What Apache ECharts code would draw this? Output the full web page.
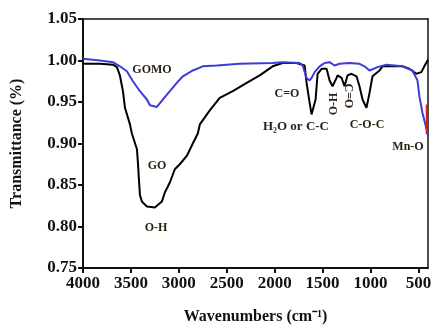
<!DOCTYPE html>
<html>
<head>
<meta charset="utf-8">
<script src="https://cdn.jsdelivr.net/npm/echarts@6/dist/echarts.min.js"></script>
<style>html,body{margin:0;padding:0;background:#fff}#c{width:435px;height:330px}</style>
</head>
<body>
<div id="c"></div>
<script>
// GO (black) spectrum: [wavenumber, transmittance]
const goWave = [4000,3823,3687,3646,3615,3583,3562,3510,3490,3437,3427,3417,3406,3385,3333,3250,3177,3146,3094,3042,2990,2917,2854,2802,2781,2677,2573,2437,2292,2156,2021,1917,1771,1688,1667,1635,1615,1573,1552,1510,1458,1427,1396,1354,1344,1302,1271,1240,1198,1146,1115,1083,1042,1010,979,906,875,802,667,594,521,469,438,400];
const goTrans = [0.996,0.996,0.995,0.992,0.982,0.963,0.943,0.923,0.912,0.893,0.877,0.858,0.838,0.830,0.824,0.823,0.830,0.841,0.853,0.869,0.875,0.885,0.900,0.912,0.923,0.940,0.955,0.963,0.973,0.982,0.993,0.997,0.997,0.994,0.973,0.949,0.935,0.953,0.984,0.990,0.990,0.976,0.969,0.979,0.982,0.979,0.969,0.982,0.984,0.981,0.969,0.953,0.943,0.961,0.981,0.988,0.993,0.993,0.993,0.990,0.984,0.986,0.993,1.001];
// GOMO (blue) spectrum
const gomoWave = [4000,3823,3687,3615,3542,3479,3406,3333,3302,3229,3167,3094,3021,2958,2854,2750,2604,2365,2021,1917,1740,1708,1667,1635,1615,1583,1531,1479,1427,1375,1323,1219,1115,1062,1010,927,833,667,563,510,490,458,417,400];
const gomoTrans = [1.002,1.000,0.998,0.993,0.987,0.975,0.963,0.953,0.946,0.944,0.953,0.963,0.973,0.981,0.988,0.993,0.994,0.996,0.997,0.998,0.997,0.994,0.979,0.976,0.979,0.986,0.993,0.997,0.998,0.994,0.996,0.997,0.996,0.993,0.988,0.992,0.995,0.993,0.988,0.976,0.957,0.937,0.918,0.910];
// small red artifact at the right edge
const redWave = [416,416];
const redTrans = [0.947,0.911];
// tick labels
const xTicks = [4000,3500,3000,2500,2000,1500,1000,500];

const zip = (a,b) => a.map((v,i) => [v,b[i]]);
const font = 'Liberation Serif';
const lblColor = '#2a1f10';
const chart = echarts.init(document.getElementById('c'));
const lbl = (text, px, py, rot, size) => ({
  type:'text', x:px, y:py, rotation: rot ? rot*Math.PI/180 : 0,
  style:{text, font:`bold ${size||12}px "${font}"`, fill:lblColor, align:'center', verticalAlign:'middle'}
});
chart.setOption({
  animation:false,
  grid:{left:83,right:7,top:19,bottom:55},
  xAxis:[{
    type:'value', min:400, max:4000, inverse:true,
    axisLine:{show:true,lineStyle:{color:'#111',width:2}},
    axisTick:{show:true,customValues:xTicks,length:5,inside:false,lineStyle:{color:'#111',width:2}},
    axisLabel:{customValues:xTicks,color:'#111',fontFamily:font,fontWeight:'bold',fontSize:17,margin:7,formatter:v=>String(v)},
    splitLine:{show:false},
    name:'Wavenumbers (cm⁻¹)', nameLocation:'middle', nameGap:41,
    nameTextStyle:{color:'#111',fontFamily:font,fontWeight:'bold',fontSize:16}
  },{
    type:'value', min:400, max:4000, inverse:true, position:'top',
    axisLine:{show:true,lineStyle:{color:'#111',width:1.5}},
    axisTick:{show:false}, axisLabel:{show:false}, splitLine:{show:false}
  }],
  yAxis:[{
    type:'value', min:0.75, max:1.05, interval:0.05,
    axisLine:{show:true,lineStyle:{color:'#111',width:2}},
    axisTick:{show:true,length:5,lineStyle:{color:'#111',width:2}},
    axisLabel:{color:'#111',fontFamily:font,fontWeight:'bold',fontSize:17,margin:6,formatter:v=>v.toFixed(2)},
    splitLine:{show:false},
    name:'Transmittance (%)', nameLocation:'middle', nameGap:58, nameRotate:90,
    nameTextStyle:{color:'#111',fontFamily:font,fontWeight:'bold',fontSize:16}
  },{
    type:'value', min:0.75, max:1.05, position:'right',
    axisLine:{show:true,lineStyle:{color:'#111',width:1.5}},
    axisTick:{show:false}, axisLabel:{show:false}, splitLine:{show:false}
  }],
  series:[
    {type:'line', data:zip(goWave,goTrans), showSymbol:false, lineStyle:{color:'#000',width:2}, z:2},
    {type:'line', data:zip(gomoWave,gomoTrans), showSymbol:false, lineStyle:{color:'#3c3cd8',width:2}, z:3},
    {type:'line', data:zip(redWave,redTrans), showSymbol:false, lineStyle:{color:'#e02020',width:1.5}, z:4}
  ],
  graphic:[
    lbl('GOMO',152,70),
    lbl('GO',157,166),
    lbl('O-H',156,228),
    lbl('C=O',287,94),
    lbl('H₂O or C-C',296,127,0,13),
    lbl('O-H',334,104,90),
    lbl('C=O',348,96,-90),
    lbl('C-O-C',367,125),
    lbl('Mn-O',408,147)
  ]
});
</script>
</body>
</html>
